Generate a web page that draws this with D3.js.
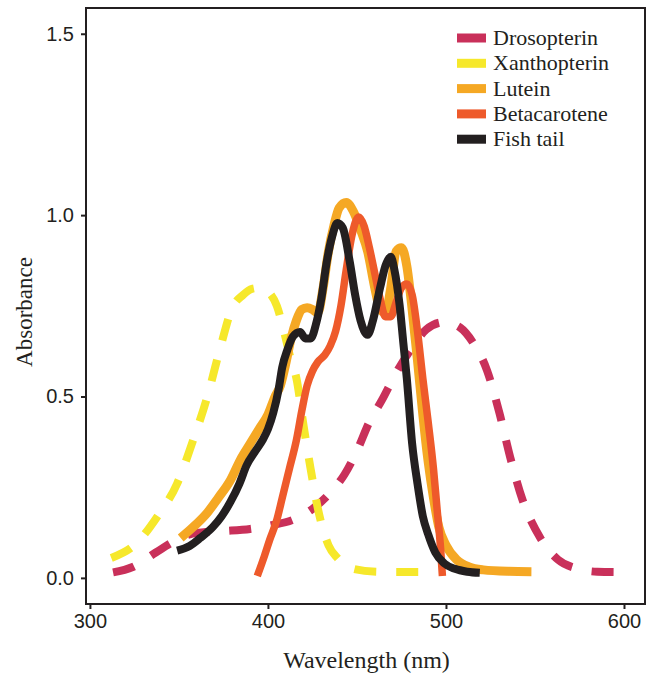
<!DOCTYPE html>
<html><head><meta charset="utf-8">
<script src="https://cdn.jsdelivr.net/npm/d3@7"></script>
<style>body{margin:0;background:#fff}</style>
</head><body>
<svg id="c" width="656" height="674"></svg>
<script>
const xTicks = [300, 400, 500, 600];
const yTicks = [0.0, 0.5, 1.0, 1.5];
const seriesNames = ["Drosopterin", "Xanthopterin", "Lutein", "Betacarotene", "Fish tail"];
const seriesColors = ["#C9305A", "#F6E82B", "#F5A824", "#EE5A2B", "#231F20"];

const drosopterin = [[313,0.015],[324,0.03],[337,0.07],[347,0.10],[356,0.12],[366,0.127],[378,0.13],[390,0.135],[402,0.145],[414,0.16],[425,0.19],[435,0.235],[443,0.285],[450,0.35],[457,0.43],[464,0.49],[472,0.565],[481,0.635],[489,0.685],[499,0.705],[508,0.69],[515,0.65],[523,0.573],[530,0.455],[536,0.334],[543,0.215],[553,0.11],[563,0.05],[574,0.025],[585,0.017],[596,0.016]];
const xanthopterin = [[312,0.055],[326,0.095],[338,0.17],[349,0.26],[358,0.38],[366,0.50],[373,0.63],[380,0.745],[386,0.78],[391,0.797],[396,0.80],[401,0.785],[405,0.75],[409,0.68],[413,0.60],[416,0.55],[420,0.42],[424,0.30],[429,0.17],[434,0.09],[439,0.055],[448,0.025],[461,0.017],[475,0.016],[491,0.016]];
const lutein = [[351,0.11],[358,0.14],[366,0.18],[372,0.22],[379,0.27],[385,0.33],[390,0.37],[395,0.41],[400,0.45],[404,0.50],[407,0.53],[410,0.59],[413,0.66],[416,0.71],[419,0.74],[422,0.745],[425,0.74],[428,0.73],[431,0.80],[434,0.90],[437,0.97],[440,1.02],[444,1.035],[448,1.01],[452,0.96],[456,0.90],[460,0.80],[463,0.74],[466,0.73],[469,0.80],[472,0.90],[475,0.91],[478,0.86],[481,0.74],[484,0.60],[487,0.45],[490,0.32],[493,0.22],[496,0.14],[500,0.09],[506,0.05],[513,0.03],[521,0.022],[535,0.018],[548,0.017]];
const betacarotene = [[394,0.005],[398,0.06],[401,0.105],[405,0.16],[408,0.22],[412,0.30],[416,0.38],[419,0.46],[422,0.53],[425,0.57],[428,0.595],[432,0.615],[435,0.64],[438,0.68],[441,0.75],[444,0.85],[447,0.94],[451,0.995],[454,0.97],[457,0.91],[460,0.84],[463,0.77],[466,0.72],[469,0.72],[472,0.76],[475,0.80],[478,0.81],[481,0.78],[484,0.68],[487,0.55],[490,0.43],[493,0.30],[495,0.19],[497,0.08],[498,0.005]];
const fishTail = [[349,0.075],[356,0.088],[362,0.11],[369,0.14],[374,0.17],[379,0.21],[384,0.26],[388,0.31],[393,0.35],[397,0.38],[400,0.41],[403,0.455],[406,0.52],[408,0.58],[411,0.63],[414,0.665],[418,0.678],[421,0.66],[424,0.66],[427,0.70],[430,0.77],[433,0.87],[436,0.94],[439,0.978],[442,0.965],[446,0.87],[449,0.78],[452,0.71],[456,0.67],[459,0.71],[463,0.80],[466,0.86],[469,0.885],[471,0.85],[474,0.75],[476,0.65],[478,0.55],[481,0.37],[484,0.26],[487,0.17],[490,0.12],[494,0.07],[499,0.04],[505,0.025],[512,0.017],[519,0.014]];

const allSeries = [drosopterin, xanthopterin, lutein, betacarotene, fishTail];
const dashed = [true, true, false, false, false];
const widths = [8, 8, 9, 7.5, 8];

const svg = d3.select("#c");
const L = 86, R = 645, T = 8, B = 604;
const x = d3.scaleLinear().domain([297.8, 611.8]).range([L, R]);
const y = d3.scaleLinear().domain([-0.072, 1.571]).range([B, T]);

const ink = "#231F20";
const line = d3.line().x(d => x(d[0])).y(d => y(d[1])).curve(d3.curveMonotoneX);

const g = svg.append("g");
allSeries.forEach((s, i) => {
  g.append("path").datum(s).attr("d", line)
    .attr("fill", "none").attr("stroke", seriesColors[i])
    .attr("stroke-width", widths[i])
    .attr("stroke-linejoin", "round")
    .attr("stroke-dasharray", dashed[i] ? "22,20" : null);
});

svg.append("rect").attr("x", L).attr("y", T).attr("width", R - L).attr("height", B - T)
  .attr("fill", "none").attr("stroke", ink).attr("stroke-width", 2);

const xAxis = svg.append("g").attr("transform", `translate(0,${B})`)
  .call(d3.axisBottom(x).tickValues(xTicks).tickSize(5).tickPadding(5).tickFormat(d3.format("d")));
const yAxis = svg.append("g").attr("transform", `translate(${L},0)`)
  .call(d3.axisLeft(y).tickValues(yTicks).tickSize(5).tickPadding(7).tickFormat(d3.format(".1f")));
[xAxis, yAxis].forEach(a => {
  a.select(".domain").remove();
  a.selectAll(".tick line").attr("stroke", ink).attr("stroke-width", 2);
  a.selectAll(".tick text").attr("fill", ink).style("font-family", "'Liberation Sans', Arial, sans-serif").style("font-size", "20px");
});

svg.append("text").attr("x", (L + R) / 2 + 1).attr("y", 668).attr("text-anchor", "middle")
  .style("font-family", "'Liberation Serif', 'Times New Roman', serif").style("font-size", "24px")
  .attr("fill", ink).text("Wavelength (nm)");
svg.append("text").attr("transform", `translate(32,${(T + B) / 2 + 6}) rotate(-90)`).attr("text-anchor", "middle")
  .style("font-family", "'Liberation Serif', 'Times New Roman', serif").style("font-size", "23px")
  .attr("fill", ink).text("Absorbance");

const leg = svg.append("g");
seriesNames.forEach((n, i) => {
  const cy = 38 + i * 25.3;
  leg.append("rect").attr("x", 457).attr("y", cy - 4.5).attr("width", 29).attr("height", 9).attr("fill", seriesColors[i]);
  leg.append("text").attr("x", 493).attr("y", cy + 7).attr("fill", ink)
    .style("font-family", "'Liberation Serif', 'Times New Roman', serif").style("font-size", "22px").text(n);
});
</script>
</body></html>
